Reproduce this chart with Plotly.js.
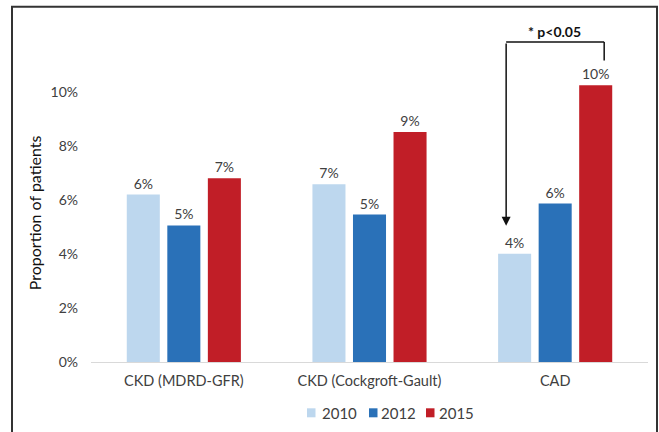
<!DOCTYPE html>
<html><head><meta charset="utf-8">
<script src="https://cdn.plot.ly/plotly-3.0.1.min.js"></script>
<style>html,body{margin:0;padding:0;background:#fff}#chart{width:659px;height:432px}</style>
</head><body><div id="chart"></div>
<script>
const categories = ["CKD (MDRD-GFR)", "CKD (Cockgroft-Gault)", "CAD"];
const years = ["2010", "2012", "2015"];
const values2010 = [6.2, 6.58, 4.01];
const values2012 = [5.06, 5.46, 5.87];
const values2015 = [6.81, 8.52, 10.25];
const yTickVals = [0, 2, 4, 6, 8, 10];
const yTickText = ["0%", "2%", "4%", "6%", "8%", "10%"];
const colors = ["#BDD7EE", "#2A71B8", "#C11E27"];
const seriesValues = [values2010, values2012, values2015];

const font = "Lato, 'Open Sans', sans-serif";
const M = {l: 91, r: 11, t: 37.7, b: 70.3};
const W = 659, H = 432;
const pw = W - M.l - M.r, ph = H - M.t - M.b;
const px = x => (x - M.l) / pw;
const py = y => (H - M.b - y) / ph;

const traces = years.map((yr, i) => ({
  type: "bar", name: yr, x: categories, y: seriesValues[i],
  marker: {color: colors[i]},
  texttemplate: "%{y:.0f}%", textposition: "outside", cliponaxis: false,
  textfont: {family: font, size: 14, color: "#404040"},
  hoverinfo: "skip"
}));

// manual legend positions (pixels)
const legSwatchX = [307, 369, 426];
const legTextX = [320, 379, 437];
const legY = 412.5;

const annotations = [
  {xref: "paper", yref: "paper", x: -0.1, y: 0.46, text: "Proportion of patients", textangle: -90,
   showarrow: false, font: {family: font, size: 16, color: "#111"}, xanchor: "center", yanchor: "middle"},
  {xref: "paper", yref: "paper", x: 0.833, y: 1.02, text: "<b>* p<0.05</b>", showarrow: false,
   font: {family: font, size: 14, color: "#111"}, xanchor: "center", yanchor: "middle"},
  {xref: "x", yref: "y", x: 1.736, y: 5.05, ax: 1.736, ay: 11.85, axref: "x", ayref: "y",
   text: "", showarrow: true, arrowhead: 2, arrowsize: 1.2, arrowwidth: 1.5, arrowcolor: "#111"}
];
const shapes = [
  {type: "line", xref: "x", yref: "y", x0: 1.736, x1: 2.264, y0: 11.85, y1: 11.85, line: {color: "#111", width: 1.5}},
  {type: "line", xref: "x", yref: "y", x0: 2.264, x1: 2.264, y0: 11.85, y1: 11.17, line: {color: "#111", width: 1.5}},
  {type: "rect", xref: "paper", yref: "paper", x0: px(12), x1: px(657), y0: py(460), y1: py(6.5),
   line: {color: "#333", width: 2}, fillcolor: "rgba(0,0,0,0)", layer: "above"}
];
years.forEach((yr, i) => {
  shapes.push({type: "rect", xref: "paper", yref: "paper", x0: px(legSwatchX[i]), x1: px(legSwatchX[i] + 8.5),
    y0: py(legY + 4.5), y1: py(legY - 4.5), line: {width: 0}, fillcolor: colors[i]});
  annotations.push({xref: "paper", yref: "paper", x: px(legTextX[i]), y: py(legY), text: yr, showarrow: false,
    xanchor: "left", yanchor: "middle", font: {family: font, size: 15, color: "#404040"}});
});

const layout = {
  width: W, height: H,
  margin: Object.assign({autoexpand: false}, M),
  paper_bgcolor: "#fff", plot_bgcolor: "#fff",
  barmode: "group", bargap: 0.345, bargroupgap: 0.185,
  showlegend: false,
  xaxis: {showline: true, linecolor: "#d9d9d9", linewidth: 1, showgrid: false, zeroline: false,
    tickfont: {family: font, size: 14.5, color: "#404040"}, ticks: "", ticklabelstandoff: 6, fixedrange: true},
  yaxis: {range: [0, 12], tickvals: yTickVals, ticktext: yTickText, showgrid: false, zeroline: false,
    showline: false, ticks: "", ticklabelstandoff: 12,
    tickfont: {family: font, size: 14, color: "#404040"}},
  annotations: annotations,
  shapes: shapes
};
Plotly.newPlot("chart", traces, layout, {displayModeBar: false, staticPlot: true});
</script></body></html>
